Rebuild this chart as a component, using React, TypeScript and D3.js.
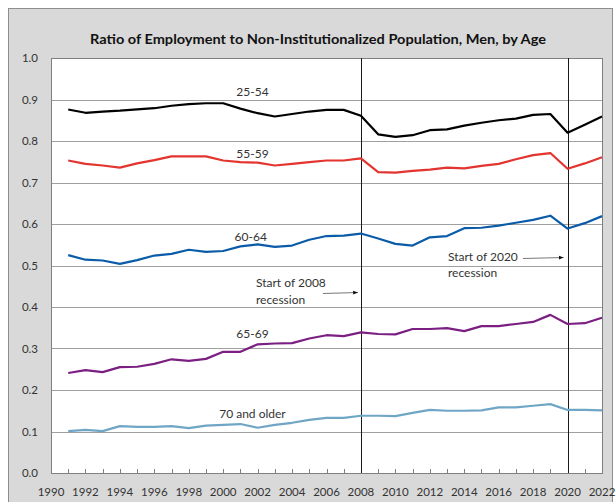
import React from 'react';
import * as d3 from 'd3';

// years 1991-2022
const years = d3.range(1991, 2023);

const prime2554 = [0.876, 0.868, 0.871, 0.873, 0.876, 0.879, 0.885, 0.889, 0.891, 0.891, 0.878, 0.867, 0.859, 0.865, 0.871, 0.875,
  0.875, 0.861, 0.816, 0.810, 0.814, 0.826, 0.828, 0.837, 0.844, 0.850, 0.854, 0.863, 0.865, 0.820, 0.839, 0.859];
const age5559 = [0.753, 0.745, 0.741, 0.736, 0.746, 0.754, 0.763, 0.763, 0.763, 0.753, 0.749, 0.748, 0.741, 0.745, 0.749, 0.753,
  0.753, 0.758, 0.725, 0.724, 0.728, 0.731, 0.736, 0.734, 0.740, 0.745, 0.756, 0.766, 0.771, 0.733, 0.746, 0.761];
const age6064 = [0.525, 0.514, 0.512, 0.504, 0.513, 0.524, 0.528, 0.538, 0.533, 0.535, 0.546, 0.551, 0.545, 0.548, 0.562, 0.571,
  0.572, 0.577, 0.565, 0.552, 0.548, 0.568, 0.571, 0.590, 0.591, 0.596, 0.603, 0.610, 0.620, 0.589, 0.602, 0.619];
const age6569 = [0.241, 0.248, 0.243, 0.255, 0.256, 0.263, 0.274, 0.270, 0.275, 0.292, 0.292, 0.310, 0.312, 0.313, 0.324, 0.332,
  0.330, 0.339, 0.335, 0.334, 0.347, 0.347, 0.349, 0.342, 0.354, 0.354, 0.359, 0.364, 0.381, 0.359, 0.361, 0.374];
const age70plus = [0.101, 0.104, 0.101, 0.113, 0.111, 0.111, 0.113, 0.108, 0.114, 0.116, 0.118, 0.109, 0.116, 0.121, 0.128, 0.133,
  0.133, 0.138, 0.138, 0.137, 0.145, 0.152, 0.150, 0.150, 0.151, 0.158, 0.158, 0.162, 0.166, 0.152, 0.152, 0.151];

const seriesNames = ['25-54', '55-59', '60-64', '65-69', '70 and older'];
const seriesValues = [prime2554, age5559, age6064, age6569, age70plus];
const seriesColors = ['#000000', '#e3342f', '#0b5ca8', '#7b1f82', '#6fa6c6'];
// label anchor: year the label sits over and value height
const labelYears = [2001.7, 2001.7, 2001.6, 2001.7, 2001.7];
const labelValues = [0.918, 0.770, 0.570, 0.335, 0.142];

const yTicks = d3.range(0, 11).map(i => i / 10);
const xLabelYears = d3.range(1990, 2023, 2);
const recessionYears = [2008, 2020];

const FONT = 'Lato, "Open Sans", sans-serif';

export default function App() {
  const x = d3.scaleLinear().domain([1990, 2022]).range([51, 602]);
  const y = d3.scaleLinear().domain([0, 1]).range([473, 58]);

  const line = d3.line<number>()
    .x((_, i) => x(years[i]))
    .y(d => y(d));

  return (
    <svg width={616} height={502} style={{ position: 'absolute', left: 0, top: 0 }} fontFamily={FONT}>
      <rect x={0} y={0} width={616} height={502} fill="#ffffff" />
      {/* chart area */}
      <rect x={8.5} y={8.5} width={604} height={500} fill="#d9d9d9" stroke="#8e8e8e" />
      <text x={318} y={44} textAnchor="middle" fontSize={14} fontWeight={700} fill="#111"
        textLength={456} lengthAdjust="spacingAndGlyphs">
        Ratio of Employment to Non-Institutionalized Population, Men, by Age
      </text>

      {/* plot area */}
      <rect x={x(1990)} y={y(1)} width={x(2022) - x(1990)} height={y(0) - y(1)} fill="#ffffff" />
      {yTicks.slice(1, 10).map(t => (
        <line key={t} x1={x(1990)} x2={x(2022)} y1={Math.round(y(t)) + 0.5} y2={Math.round(y(t)) + 0.5} stroke="#a0a0a0" />
      ))}
      {yTicks.map(t => (
        <text key={t} x={38} y={y(t)} dy="0.35em" textAnchor="end" fontSize={11.5} fill="#333">
          {d3.format('.1f')(t)}
        </text>
      ))}
      {d3.range(1991, 2022).map(yr => (
        <line key={yr} x1={Math.round(x(yr)) + 0.5} x2={Math.round(x(yr)) + 0.5} y1={y(0)} y2={y(0) - 4} stroke="#808080" />
      ))}
      {xLabelYears.map(yr => (
        <text key={yr} x={x(yr)} y={496} textAnchor="middle" fontSize={11.5} fill="#333">{yr}</text>
      ))}
      <rect x={x(1990) + 0.5} y={Math.round(y(1)) + 0.5} width={x(2022) - x(1990)} height={Math.round(y(0) - y(1))}
        fill="none" stroke="#7f7f7f" />

      {recessionYears.map(yr => (
        <line key={yr} x1={Math.round(x(yr)) + 0.5} x2={Math.round(x(yr)) + 0.5} y1={y(1)} y2={y(0)} stroke="#1a1a1a" />
      ))}

      {seriesValues.map((vals, i) => (
        <path key={seriesNames[i]} d={line(vals) || ''} fill="none" stroke={seriesColors[i]}
          strokeWidth={2.2} strokeLinejoin="round" />
      ))}
      {seriesNames.map((name, i) => (
        <text key={name} x={x(labelYears[i])} y={y(labelValues[i])} dy="0.35em" textAnchor="middle"
          fontSize={12} fill="#333">{name}</text>
      ))}

      <defs>
        <marker id="arr" viewBox="0 0 10 10" refX={10} refY={5} markerWidth={6} markerHeight={6} orient="auto">
          <path d="M0,1 L10,5 L0,9 z" fill="#111" />
        </marker>
      </defs>
      <text x={256} y={283} dy="0.35em" fontSize={12} fill="#333">Start of 2008</text>
      <text x={256} y={300} dy="0.35em" fontSize={12} fill="#333">recession</text>
      <line x1={323} y1={293.5} x2={x(2008) - 3} y2={292.5} stroke="#555" strokeWidth={0.8} markerEnd="url(#arr)" />
      <text x={448} y={257} dy="0.35em" fontSize={12} fill="#333">Start of 2020</text>
      <text x={448} y={273} dy="0.35em" fontSize={12} fill="#333">recession</text>
      <line x1={523} y1={258.5} x2={x(2020) - 4} y2={257.5} stroke="#555" strokeWidth={0.8} markerEnd="url(#arr)" />
    </svg>
  );
}
